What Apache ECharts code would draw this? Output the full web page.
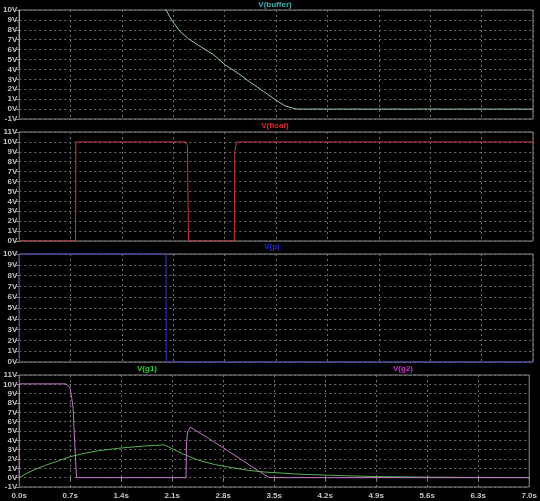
<!DOCTYPE html>
<html>
<head>
<meta charset="utf-8">
<script src="https://cdn.jsdelivr.net/npm/echarts@6/dist/echarts.min.js"></script>
<style>
  html, body { margin: 0; padding: 0; background: #000; }
  #chart { width: 540px; height: 501px; }
</style>
</head>
<body>
<div id="chart"></div>
<script>
// Transient simulation: four stacked waveform panes sharing a 0–7 s time axis.

// V(buffer)
const bufferT = [0, 0.001, 1.93, 2.0, 2.08, 2.19, 2.31, 2.465, 2.65, 2.805, 2.99, 3.15, 3.33, 3.49, 3.62, 3.76, 3.8, 7.0];
const bufferV = [4.1, 12, 10.8, 10.0, 8.95, 7.84, 7.07, 6.33, 5.48, 4.47, 3.57, 2.69, 1.78, 0.94, 0.33, 0.03, 0, 0];

// V(float)
const floatT = [0, 0.767, 0.772, 2.27, 2.285, 2.292, 2.306, 2.93, 2.937, 2.95, 2.97, 7.0];
const floatV = [0, 0, 10, 10, 9.9, 9.6, 0, 0, 9.0, 9.6, 10, 10];

// V(p)
const pT = [0, 0.001, 2.0, 2.003, 7.0];
const pV = [0, 10, 10, 0, 0];

// V(g1)
const g1T = [0, 0.1, 0.2, 0.35, 0.5, 0.7, 0.9, 1.1, 1.4, 1.7, 1.99, 2.056, 2.24, 2.465, 2.69, 2.92, 3.15, 3.37, 3.6, 3.83, 4.1, 4.5, 4.83, 5.3, 5.9, 7.0];
const g1V = [0, 0.45, 0.82, 1.3, 1.7, 2.25, 2.62, 2.9, 3.18, 3.38, 3.52, 3.27, 2.57, 1.85, 1.39, 1.07, 0.78, 0.6, 0.49, 0.38, 0.3, 0.2, 0.13, 0.08, 0.04, 0.01];

// V(g2)
const g2T = [0, 0.001, 0.64, 0.694, 0.717, 0.74, 0.75, 0.786, 2.29, 2.295, 2.31, 2.35, 2.6, 2.9, 3.2, 3.42, 3.5, 7.0];
const g2V = [0, 10.05, 10.05, 9.7, 8.8, 7.4, 5.6, 0, 0, 3.5, 4.9, 5.41, 4.2, 2.7, 1.15, 0.05, 0, 0];

// Vertical ranges of the four panes (volts)
const paneMin = [-1, 0, 0, -1];
const paneMax = [10, 11, 10, 11];

const zip = (t, v) => t.map((x, i) => [x, v[i]]);

const FONT = 'Liberation Sans';
const gridColor = '#6e6e6e';
const frameColor = '#8a8a8a';
const textColor = '#c4c4c4';

const panes = [
  { top: 10, height: 109 },
  { top: 132, height: 109 },
  { top: 254, height: 108 },
  { top: 375, height: 112 }
];

const grids = panes.map(p => ({
  left: 19, right: 7, top: p.top, height: p.height,
  show: true, borderColor: frameColor, borderWidth: 1, backgroundColor: 'transparent'
}));

const xAxes = panes.map((p, i) => ({
  type: 'value', gridIndex: i, min: 0, max: 7, interval: 0.7,
  axisLine: { show: false },
  axisTick: { show: i === 3, length: 3, lineStyle: { color: frameColor } },
  axisLabel: {
    show: i === 3, color: textColor, fontFamily: FONT, fontSize: 8, fontWeight: 'bold', margin: 5,
    showMinLabel: true, showMaxLabel: true, hideOverlap: false,
    formatter: v => v.toFixed(1) + 's'
  },
  splitLine: { show: true, lineStyle: { color: gridColor, type: [2, 3], width: 1 } }
}));

const yAxes = panes.map((p, i) => ({
  type: 'value', gridIndex: i, min: paneMin[i], max: paneMax[i], interval: 1,
  axisLine: { show: false },
  axisTick: { show: true, length: 3, lineStyle: { color: frameColor } },
  axisLabel: {
    color: textColor, fontFamily: FONT, fontSize: 8, fontWeight: 'bold', lineHeight: 7, margin: 2,
    showMinLabel: true, showMaxLabel: true, hideOverlap: false, interval: 0,
    formatter: v => v + 'V'
  },
  splitLine: { show: true, lineStyle: { color: gridColor, type: [2, 3], width: 1 } }
}));

const line = (name, idx, data, color) => ({
  name, type: 'line', xAxisIndex: idx, yAxisIndex: idx, data,
  showSymbol: false, symbol: 'none', clip: true,
  lineStyle: { color, width: 1 }, z: 3
});

const series = [
  line('V(buffer)', 0, zip(bufferT, bufferV), '#9cc6c6'),
  line('V(float)', 1, zip(floatT, floatV), '#c83838'),
  line('V(p)', 2, zip(pT, pV), '#3434c8'),
  line('V(g1)', 3, zip(g1T, g1V), '#58b058'),
  line('V(g2)', 3, zip(g2T, g2V), '#c678cc')
];

const titleText = (text, x, y, color) => ({
  type: 'text', x, y,
  style: { text, fill: color, font: 'bold 8px ' + FONT, align: 'center', verticalAlign: 'middle' }
});

const chart = echarts.init(document.getElementById('chart'), null, { renderer: 'canvas' });
chart.setOption({
  backgroundColor: '#000',
  animation: false,
  grid: grids,
  xAxis: xAxes,
  yAxis: yAxes,
  series,
  graphic: [
    titleText('V(buffer)', 275, 5, '#3fb0b0'),
    titleText('V(float)', 275, 126, '#e02828'),
    titleText('V(p)', 272, 247, '#2a2ae0'),
    titleText('V(g1)', 147, 369, '#30d030'),
    titleText('V(g2)', 403, 369, '#d030d0')
  ]
});
</script>
</body>
</html>
